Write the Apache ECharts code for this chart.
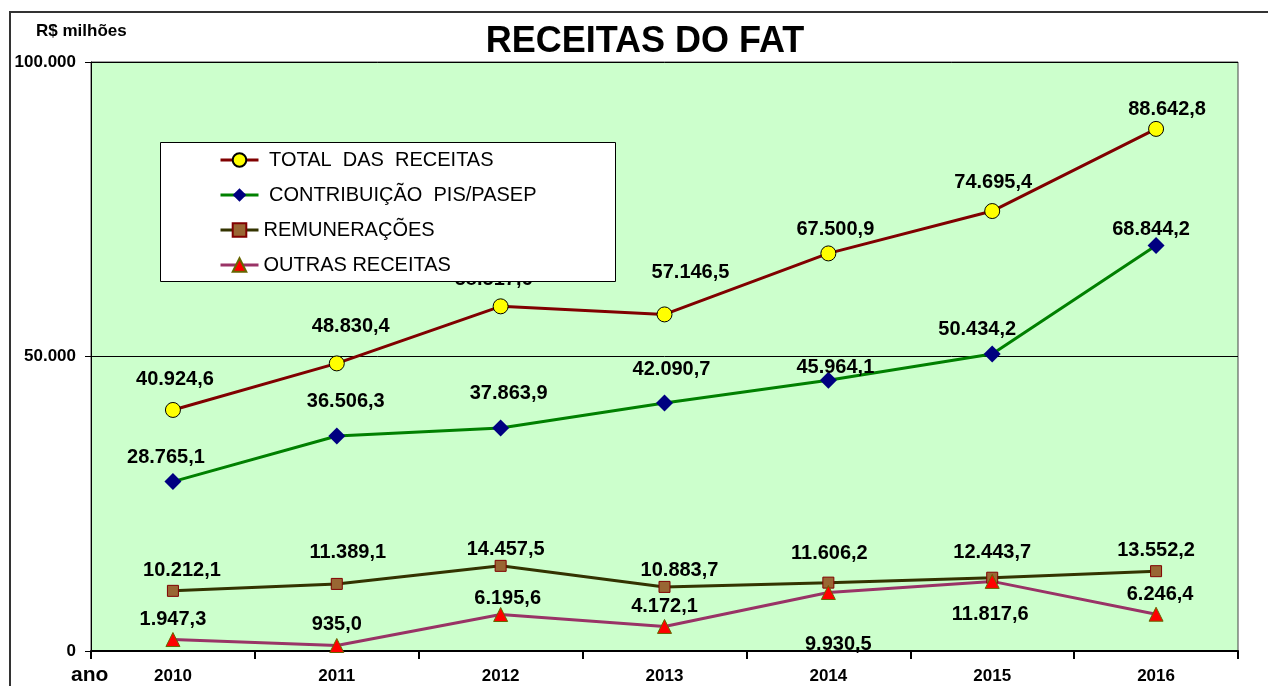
<!DOCTYPE html>
<html>
<head>
<meta charset="utf-8">
<script src="https://cdn.jsdelivr.net/npm/echarts@6/dist/echarts.min.js"></script>
<style>
html,body{margin:0;padding:0;background:#fff;}
#c{width:1268px;height:686px;}
</style>
</head>
<body>
<div id="c"></div>
<script>
// ---- data ----
const categories = ['2010','2011','2012','2013','2014','2015','2016'];
const totalReceitas = [40924.6, 48830.4, 58517.6, 57146.5, 67500.9, 74695.4, 88642.8];
const contribuicaoPis = [28765.1, 36506.3, 37863.9, 42090.7, 45964.1, 50434.2, 68844.2];
const remuneracoes = [10212.1, 11389.1, 14457.5, 10883.7, 11606.2, 12443.7, 13552.2];
const outrasReceitas = [1947.3, 935.0, 6195.6, 4172.1, 9930.5, 11817.6, 6246.4];
const yTicks = [0, 50000, 100000];

// ---- label placement (layout, relative to point) ----
const offTotal = [[2,-30],[14,-37],[-7,-27],[26,-42],[7,-24],[1,-29],[11,-19]];
const offContrib = [[-7,-24],[9,-34],[8,-34],[7,-34],[7,-13],[-15,-24],[-5,-16]];
const offRemun = [[9,-20],[11,-31],[5,-16],[15,-16],[1,-29],[0,-25],[0,-21]];
const offOutras = [[0,-20],[0,-21],[7,-16],[0,-20],[10,52],[-2,33],[4,-20]];

const FONT = 'Liberation Sans, Arial, sans-serif';
function fmtThousands(n){
  return Math.round(n).toString().replace(/\B(?=(\d{3})+(?!\d))/g,'.');
}
function fmtVal(v){
  const parts = v.toFixed(1).split('.');
  return parts[0].replace(/\B(?=(\d{3})+(?!\d))/g,'.') + ',' + parts[1];
}
function withLabels(vals, offs){
  return vals.map((v,i)=>({value:v, label:{offset:offs[i]}}));
}
const labelStyle = {
  show:true, position:'inside', color:'#000', fontFamily:FONT,
  fontWeight:'bold', fontSize:20, formatter:p=>fmtVal(p.value)
};
const names = [' TOTAL  DAS  RECEITAS',' CONTRIBUIÇÃO  PIS/PASEP','REMUNERAÇÕES','OUTRAS RECEITAS'];

const chart = echarts.init(document.getElementById('c'), null, {renderer:'canvas'});
chart.setOption({
  animation:false,
  backgroundColor:'#fff',
  grid:{left:91, right:30, top:62, bottom:35, show:true, backgroundColor:'#CCFFCC', borderColor:'#444', borderWidth:1},
  legend:{
    orient:'vertical', left:219, top:150, padding:0, itemWidth:38, itemHeight:17, itemGap:15,
    z:20, textStyle:{fontFamily:FONT, fontSize:20, color:'#000'},
    data:names.map(n=>({name:n, lineStyle:{width:3}}))
  },
  xAxis:{
    type:'category', data:categories, boundaryGap:true,
    axisLine:{show:true, lineStyle:{color:'#000', width:2}},
    axisTick:{show:true, length:8, lineStyle:{color:'#000', width:2}},
    axisLabel:{fontFamily:FONT, fontWeight:'bold', fontSize:17, color:'#000', margin:17},
    splitLine:{show:false}
  },
  yAxis:{
    type:'value', min:yTicks[0], max:yTicks[yTicks.length-1], interval:yTicks[1]-yTicks[0],
    axisLine:{show:true, lineStyle:{color:'#000', width:1}},
    axisTick:{show:true, length:6, lineStyle:{color:'#000'}},
    axisLabel:{fontFamily:FONT, fontWeight:'bold', fontSize:17, color:'#000', margin:15,
      formatter:v=>fmtThousands(v)},
    splitLine:{show:true, lineStyle:{color:'#000', width:1}}
  },
  series:[
    {name:names[0], type:'line', data:withLabels(totalReceitas, offTotal),
     symbol:'circle', symbolSize:15, lineStyle:{color:'#800000', width:3},
     itemStyle:{color:'#FFFF00', borderColor:'#000', borderWidth:1}, label:labelStyle, z:3},
    {name:names[1], type:'line', data:withLabels(contribuicaoPis, offContrib),
     symbol:'diamond', symbolSize:17, lineStyle:{color:'#008000', width:3},
     itemStyle:{color:'#000080', borderWidth:0}, label:labelStyle, z:3},
    {name:names[2], type:'line', data:withLabels(remuneracoes, offRemun),
     symbol:'rect', symbolSize:11, lineStyle:{color:'#333300', width:3},
     itemStyle:{color:'#996633', borderColor:'#800000', borderWidth:1}, label:labelStyle, z:3},
    {name:names[3], type:'line', data:withLabels(outrasReceitas, offOutras),
     symbol:'triangle', symbolSize:14, lineStyle:{color:'#993366', width:3},
     itemStyle:{color:'#FF0000', borderColor:'#666600', borderWidth:1}, label:labelStyle, z:3}
  ],
  graphic:[
    {type:'rect', z:0, silent:true, shape:{x:10, y:12, width:1300, height:720},
     style:{fill:'none', stroke:'#333', lineWidth:2}},
    {type:'rect', z:15, silent:true, shape:{x:160.5, y:142.5, width:455, height:139},
     style:{fill:'#fff', stroke:'#000', lineWidth:1}},
    {type:'text', z:15, x:645, y:42, style:{text:'RECEITAS DO FAT', font:'bold 36px '+FONT, fill:'#000', textAlign:'center', textVerticalAlign:'middle'}},
    {type:'text', z:15, x:36, y:31, style:{text:'R$ milhões', font:'bold 17px '+FONT, fill:'#000', textAlign:'left', textVerticalAlign:'middle'}},
    {type:'text', z:15, x:71, y:675, style:{text:'ano', font:'bold 21px '+FONT, fill:'#000', textAlign:'left', textVerticalAlign:'middle'}}
  ]
});
</script>
</body>
</html>
